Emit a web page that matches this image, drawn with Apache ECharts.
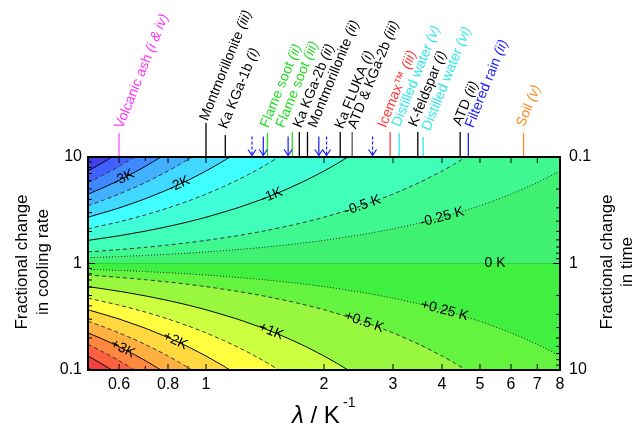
<!DOCTYPE html>
<html><head><meta charset="utf-8">
<script src="https://cdn.jsdelivr.net/npm/echarts@6/dist/echarts.min.js"></script>
<style>html,body{margin:0;padding:0;background:#fff}#c{width:638px;height:428px}</style>
</head><body><div id="c"></div>
<script>
// ---------- axis ranges ----------
const X_MIN = 0.5, X_MAX = 8;      // lambda / K^-1
const Y_MIN = 0.1, Y_MAX = 10;     // fractional change in cooling rate
const T_MIN = 0.1, T_MAX = 10;     // fractional change in time (right axis)

// ---------- contours: lambda and cooling-rate ratio ----------
const LAM_0 = [0.5, 8];
const RATE_0 = [1, 1];

const LAM_025 = [0.5,0.6,0.7,0.8,0.9,1,1.2,1.4,1.7,2,2.5,3,3.5,4,5,6,7,8];
const RATE_M025 = [1.133,1.162,1.191,1.221,1.252,1.284,1.350,1.419,1.530,1.649,1.868,2.117,2.399,2.718,3.490,4.482,5.755,7.389];
const RATE_P025 = [0.8825,0.8607,0.8395,0.8187,0.7985,0.7788,0.7408,0.7047,0.6538,0.6065,0.5353,0.4724,0.4169,0.3679,0.2865,0.2231,0.1738,0.1353];

const LAM_05 = [0.5,0.6,0.7,0.8,0.9,1,1.2,1.4,1.7,2,2.5,3,3.5,4,4.3,4.605];
const RATE_M05 = [1.284,1.350,1.419,1.492,1.568,1.649,1.822,2.014,2.340,2.718,3.490,4.482,5.755,7.389,8.585,10];
const RATE_P05 = [0.7788,0.7408,0.7047,0.6703,0.6376,0.6065,0.5488,0.4966,0.4274,0.3679,0.2865,0.2231,0.1738,0.1353,0.1165,0.1];

const LAM_1 = [0.5,0.6,0.7,0.8,0.9,1,1.2,1.4,1.6,1.8,2,2.15,2.303];
const RATE_M1 = [1.649,1.822,2.014,2.226,2.460,2.718,3.320,4.055,4.953,6.050,7.389,8.585,10];
const RATE_P1 = [0.6065,0.5488,0.4966,0.4493,0.4066,0.3679,0.3012,0.2466,0.2019,0.1653,0.1353,0.1165,0.1];

const LAM_15 = [0.5,0.6,0.7,0.8,0.9,1,1.1,1.2,1.3,1.4,1.535];
const RATE_M15 = [2.117,2.460,2.858,3.320,3.857,4.482,5.207,6.050,7.029,8.166,10];
const RATE_P15 = [0.4724,0.4066,0.3499,0.3012,0.2592,0.2231,0.1920,0.1653,0.1423,0.1225,0.1];

const LAM_2 = [0.5,0.6,0.7,0.8,0.9,1,1.1,1.151];
const RATE_M2 = [2.718,3.320,4.055,4.953,6.050,7.389,9.025,10];
const RATE_P2 = [0.3679,0.3012,0.2466,0.2019,0.1653,0.1353,0.1108,0.1];

const LAM_25 = [0.5,0.55,0.6,0.65,0.7,0.75,0.8,0.85,0.9,0.921];
const RATE_M25 = [3.490,3.955,4.482,5.078,5.755,6.521,7.389,8.373,9.488,10];
const RATE_P25 = [0.2865,0.2528,0.2231,0.1969,0.1738,0.1534,0.1353,0.1194,0.1054,0.1];

const LAM_3 = [0.5,0.55,0.6,0.65,0.7,0.73,0.7675];
const RATE_M3 = [4.482,5.207,6.050,7.029,8.166,8.935,10];
const RATE_P3 = [0.2231,0.1920,0.1653,0.1423,0.1225,0.1119,0.1];

const LAM_35 = [0.5,0.55,0.6,0.658];
const RATE_M35 = [5.755,6.855,8.166,10];
const RATE_P35 = [0.1738,0.1459,0.1225,0.1];

const LAM_4 = [0.5,0.55,0.5756];
const RATE_M4 = [7.389,9.025,10];
const RATE_P4 = [0.1353,0.1108,0.1];

const LAM_45 = [0.5,0.5117];
const RATE_M45 = [9.488,10];
const RATE_P45 = [0.1054,0.1];

// contour levels (K)
const NEG_LEVELS = [0,-0.25,-0.5,-1,-1.5,-2,-2.5,-3,-3.5,-4,-4.5];
const POS_LEVELS = [0,0.25,0.5,1,1.5,2,2.5,3,3.5,4,4.5];

// contour labels
const CONTOUR_LABEL_TEXT = ['-3K','-2K','-1K','-0.5 K','-0.25 K','0 K','+0.25 K','+0.5 K','+1K','+2K','+3K'];
const CONTOUR_LABEL_LAMBDA = [0.616,0.854,1.473,2.51,4.0,5.46,4.06,2.53,1.465,0.834,0.613];
const CONTOUR_LABEL_RATE = [6.35,5.52,4.36,3.51,2.72,1.0,0.362,0.282,0.231,0.189,0.159];

// tick values / labels
const X_TICKS = [0.6,0.7,0.8,0.9,1,2,3,4,5,6,7,8];
const X_TICK_LABELS = ['0.6','','0.8','','1','2','3','4','5','6','7','8'];
const Y_TICKS = [0.1,0.2,0.3,0.4,0.5,0.6,0.7,0.8,0.9,1,2,3,4,5,6,7,8,9,10];
const Y_TICK_LABELS = ['0.1','','','','','','','','','1','','','','','','','','','10'];
const T_TICKS = [0.1,0.2,0.3,0.4,0.5,0.6,0.7,0.8,0.9,1,2,3,4,5,6,7,8,9,10];
const T_TICK_LABELS = ['0.1','','','','','','','','','1','','','','','','','','','10'];

// literature values marked on top
const ANNOT_NAMES = ['Volcanic ash','Montmorillonite','Ka KGa-1b','Flame soot','Flame soot','Ka KGa-2b','Montmorillonite','Ka FLUKA','ATD & KGa-2b','Icemax\u2122','Distilled water','K-feldspar','Distilled water','ATD','Filtered rain','Soil'];
const ANNOT_REFS = ['(i & iv)','(iii)','(i)','(ii)','(iii)','(ii)','(ii)','(i)','(iii)','(iii)','(v)','(i)','(vi)','(ii)','(ii)','(v)'];
const ANNOT_LAMBDA = [0.6,1.0,1.12,1.435,1.66,1.73,1.815,2.2,2.36,2.95,3.11,3.47,3.58,4.45,4.67,6.46];
const ARROW_SOLID_LAMBDA = [1.40,1.62,1.94];
const ARROW_DASHED_LAMBDA = [1.31,2.03,2.66];

// ---------- styles ----------
const NEG_FILL = ['#40f070','#40f890','#40ffb8','#40ffd8','#40ffff','#40d8ff','#40b0ff','#4088ff','#4060ff','#4040e8','#3838c8'];
const POS_FILL = ['#40f040','#64f440','#98f840','#ccff40','#ffff40','#ffd840','#ffb040','#ff8840','#ff6040','#f04040','#c04848'];
const LABEL_ROT = [27,25,22,19,15,0,-15,-19,-22,-25,-27];
const ANNOT_TEXT_COLOR = ['#ff30ff','#000','#000','#22dd22','#22dd22','#000','#000','#000','#000','#ff3030','#30e8e8','#000','#30e8e8','#000','#1a1aff','#ff8c20'];
const ANNOT_LINE_COLOR = ['#ff50ff','#000','#000','#22dd22','#22dd22','#000','#000','#000','#555','#ff4040','#30e8e8','#000','#30e8e8','#000','#1a1aff','#ff8c20'];
const ANNOT_LINE_LEN = [24,34,22,24,25,25,25,25,25,25,24,25,20,25,24,24];
const ANNOT_TEXT_RISE = [29,37,29,30,30,30,30,29,29,30,31,31,27,32,30,31];
const ANNOT_TEXT_DX = [0,-2,-2,-3,-12,-2,5,-1,0,-8,-3,-5,3,-3,1,-3];
const FONT = '"Liberation Sans", Arial, sans-serif';

// ---------- build ----------
const CONTOUR_MAP = {
  '0': [LAM_0, RATE_0],
  '-0.25': [LAM_025, RATE_M025], '0.25': [LAM_025, RATE_P025],
  '-0.5': [LAM_05, RATE_M05], '0.5': [LAM_05, RATE_P05],
  '-1': [LAM_1, RATE_M1], '1': [LAM_1, RATE_P1],
  '-1.5': [LAM_15, RATE_M15], '1.5': [LAM_15, RATE_P15],
  '-2': [LAM_2, RATE_M2], '2': [LAM_2, RATE_P2],
  '-2.5': [LAM_25, RATE_M25], '2.5': [LAM_25, RATE_P25],
  '-3': [LAM_3, RATE_M3], '3': [LAM_3, RATE_P3],
  '-3.5': [LAM_35, RATE_M35], '3.5': [LAM_35, RATE_P35],
  '-4': [LAM_4, RATE_M4], '4': [LAM_4, RATE_P4],
  '-4.5': [LAM_45, RATE_M45], '4.5': [LAM_45, RATE_P45]
};

const FILLS = [];
NEG_LEVELS.forEach((lv, i) => FILLS.push({lv, edge: Y_MAX, color: NEG_FILL[i]}));
POS_LEVELS.forEach((lv, i) => FILLS.push({lv, edge: Y_MIN, color: POS_FILL[i]}));

const series = [];

series.push({
  type: 'custom', z: 1, silent: true,
  data: FILLS.map(() => [1, 1]),
  renderItem: (params, api) => {
    const f = FILLS[params.dataIndex];
    const [lam, rate] = CONTOUR_MAP[String(f.lv)];
    const pts = lam.map((l, k) => api.coord([l, rate[k]]));
    pts.push(api.coord([lam[lam.length - 1], f.edge]));
    pts.push(api.coord([lam[0], f.edge]));
    return {type: 'polygon', shape: {points: pts}, style: {fill: f.color, stroke: null}};
  }
});

const ALL_LEVELS = [0,-0.25,0.25,-0.5,0.5,-1,1,-1.5,1.5,-2,2,-2.5,2.5,-3,3,-3.5,3.5,-4,4,-4.5,4.5];
ALL_LEVELS.forEach(lv => {
  const [lam, rate] = CONTOUR_MAP[String(lv)];
  const a = Math.abs(lv);
  let ls;
  if (lv === 0) ls = {color: '#30d430', width: 1.2, type: 'solid'};
  else if (Number.isInteger(a)) ls = {color: '#000', width: 1, type: 'solid'};
  else if (a === 0.25) ls = {color: '#222', width: 1, type: [1, 2]};
  else ls = {color: '#333', width: 1, type: [4, 3]};
  series.push({
    type: 'line', z: 3, silent: true, symbol: 'none', smooth: 0.2,
    data: lam.map((l, k) => [l, rate[k]]), lineStyle: ls
  });
});

// contour labels
series.push({
  type: 'custom', z: 4, silent: true,
  data: CONTOUR_LABEL_LAMBDA.map((l, i) => [l, CONTOUR_LABEL_RATE[i]]),
  renderItem: (params, api) => {
    const i = params.dataIndex;
    const p = api.coord([api.value(0), api.value(1)]);
    return {type: 'text', x: p[0], y: p[1], rotation: LABEL_ROT[i] * Math.PI / 180,
      style: {text: CONTOUR_LABEL_TEXT[i], fill: '#000', fontSize: 14, fontFamily: FONT,
        align: 'center', verticalAlign: 'middle', textAlign: 'center', textVerticalAlign: 'middle'}};
  }
});

// frame
series.push({
  type: 'custom', z: 6, silent: true, data: [[1, 1]],
  renderItem: (params, api) => {
    const a = api.coord([X_MIN, Y_MAX]), b = api.coord([X_MAX, Y_MIN]);
    return {type: 'rect', shape: {x: a[0], y: a[1], width: b[0] - a[0], height: b[1] - a[1]},
      style: {fill: null, stroke: '#000', lineWidth: 2}};
  }
});

// x ticks
series.push({
  type: 'custom', z: 5, silent: true,
  data: X_TICKS.map(v => [v, 1]),
  renderItem: (params, api) => {
    const i = params.dataIndex;
    const v = X_TICKS[i];
    const b = api.coord([v, Y_MIN]), t = api.coord([v, Y_MAX]);
    const len = X_TICK_LABELS[i] ? 6 : 4;
    const ch = [
      {type: 'line', shape: {x1: b[0], y1: b[1], x2: b[0], y2: b[1] - len}, style: {stroke: '#000', lineWidth: 1}},
      {type: 'line', shape: {x1: t[0], y1: t[1], x2: t[0], y2: t[1] + len}, style: {stroke: '#000', lineWidth: 1}}
    ];
    if (X_TICK_LABELS[i]) ch.push({type: 'text', x: b[0], y: b[1] + 15,
      style: {text: X_TICK_LABELS[i], fill: '#000', fontSize: 16, fontFamily: FONT,
        align: 'center', verticalAlign: 'middle', textAlign: 'center', textVerticalAlign: 'middle'}});
    return {type: 'group', children: ch};
  }
});

// left y ticks
series.push({
  type: 'custom', z: 5, silent: true,
  data: Y_TICKS.map(v => [1, v]),
  renderItem: (params, api) => {
    const i = params.dataIndex;
    const p = api.coord([X_MIN, Y_TICKS[i]]);
    const len = Y_TICK_LABELS[i] ? 7 : 4;
    const ch = [{type: 'line', shape: {x1: p[0], y1: p[1], x2: p[0] + len, y2: p[1]}, style: {stroke: '#000', lineWidth: 1}}];
    if (Y_TICK_LABELS[i]) ch.push({type: 'text', x: p[0] - 6, y: p[1],
      style: {text: Y_TICK_LABELS[i], fill: '#000', fontSize: 16, fontFamily: FONT,
        align: 'right', verticalAlign: 'middle', textAlign: 'right', textVerticalAlign: 'middle'}});
    return {type: 'group', children: ch};
  }
});

// right y ticks (time, inverse)
series.push({
  type: 'custom', z: 5, silent: true, yAxisIndex: 1,
  data: T_TICKS.map(v => [1, v]),
  renderItem: (params, api) => {
    const i = params.dataIndex;
    const p = api.coord([X_MAX, T_TICKS[i]]);
    const len = T_TICK_LABELS[i] ? 7 : 4;
    const ch = [{type: 'line', shape: {x1: p[0], y1: p[1], x2: p[0] - len, y2: p[1]}, style: {stroke: '#000', lineWidth: 1}}];
    if (T_TICK_LABELS[i]) ch.push({type: 'text', x: p[0] + 9, y: p[1],
      style: {text: T_TICK_LABELS[i], fill: '#000', fontSize: 16, fontFamily: FONT,
        align: 'left', verticalAlign: 'middle', textAlign: 'left', textVerticalAlign: 'middle'}});
    return {type: 'group', children: ch};
  }
});

// annotations on top
series.push({
  type: 'custom', z: 5, silent: true,
  data: ANNOT_LAMBDA.map(l => [l, Y_MAX]),
  renderItem: (params, api) => {
    const i = params.dataIndex;
    const p = api.coord([ANNOT_LAMBDA[i], Y_MAX]);
    const c = ANNOT_TEXT_COLOR[i];
    return {type: 'group', children: [
      {type: 'line', shape: {x1: p[0], y1: p[1], x2: p[0], y2: p[1] - ANNOT_LINE_LEN[i]},
        style: {stroke: ANNOT_LINE_COLOR[i], lineWidth: 1.3}},
      {type: 'text', x: p[0] + ANNOT_TEXT_DX[i], y: p[1] - ANNOT_TEXT_RISE[i], rotation: 68 * Math.PI / 180,
        style: {text: '{n|' + ANNOT_NAMES[i] + ' }{r|' + ANNOT_REFS[i] + '}',
          rich: {n: {fill: c, fontSize: 14, fontFamily: FONT},
                 r: {fill: c, fontSize: 14, fontFamily: FONT, fontStyle: 'italic'}},
          align: 'left', verticalAlign: 'middle', textAlign: 'left', textVerticalAlign: 'middle'}}
    ]};
  }
});

// arrows
const ARROWS = ARROW_SOLID_LAMBDA.map(l => [l, 0]).concat(ARROW_DASHED_LAMBDA.map(l => [l, 1]));
series.push({
  type: 'custom', z: 5, silent: true,
  data: ARROWS.map(a => [a[0], Y_MAX]),
  renderItem: (params, api) => {
    const a = ARROWS[params.dataIndex];
    const p = api.coord([a[0], Y_MAX]);
    const x = p[0], y = p[1] - 1.5;
    const st = {stroke: '#1a1aff', lineWidth: 1.2, fill: null, lineDash: a[1] ? [3, 2] : null};
    return {type: 'group', children: [
      {type: 'line', shape: {x1: x, y1: y - 19, x2: x, y2: y}, style: st},
      {type: 'polyline', shape: {points: [[x - 4, y - 6], [x, y], [x + 4, y - 6]]},
        style: {stroke: '#1a1aff', lineWidth: 1.2, fill: null}}
    ]};
  }
});

const hiddenAxis = {axisLine: {show: false}, axisTick: {show: false}, axisLabel: {show: false}, splitLine: {show: false}, minorTick: {show: false}};
const option = {
  animation: false,
  grid: {left: 88, top: 157, width: 472, height: 213, show: false},
  xAxis: Object.assign({type: 'log', logBase: 10, min: X_MIN, max: X_MAX}, hiddenAxis),
  yAxis: [
    Object.assign({type: 'log', logBase: 10, min: Y_MIN, max: Y_MAX, position: 'left'}, hiddenAxis),
    Object.assign({type: 'log', logBase: 10, min: T_MIN, max: T_MAX, position: 'right', inverse: true}, hiddenAxis)
  ],
  graphic: [
    {type: 'text', x: 33, y: 262, rotation: Math.PI / 2,
      style: {text: 'Fractional change\nin cooling rate', fill: '#000', fontSize: 17, fontFamily: FONT, lineHeight: 21.5,
        align: 'center', verticalAlign: 'middle', textAlign: 'center', textVerticalAlign: 'middle'}},
    {type: 'text', x: 617, y: 262, rotation: Math.PI / 2,
      style: {text: 'Fractional change\nin time', fill: '#000', fontSize: 17, fontFamily: FONT, lineHeight: 20,
        align: 'center', verticalAlign: 'middle', textAlign: 'center', textVerticalAlign: 'middle'}},
    {type: 'text', x: 292, y: 416,
      style: {text: '{l|\u03bb}{n| / K}', rich: {l: {fill: '#000', fontSize: 24, fontFamily: FONT, fontStyle: 'italic'},
        n: {fill: '#000', fontSize: 24, fontFamily: FONT}},
        align: 'left', verticalAlign: 'middle', textAlign: 'left', textVerticalAlign: 'middle'}},
    {type: 'text', x: 343, y: 403,
      style: {text: '-1', fill: '#000', fontSize: 14, fontFamily: FONT,
        align: 'left', verticalAlign: 'middle', textAlign: 'left', textVerticalAlign: 'middle'}}
  ],
  series: series
};
const chart = echarts.init(document.getElementById('c'), null, {renderer: 'canvas'});
chart.setOption(option);
</script></body></html>
